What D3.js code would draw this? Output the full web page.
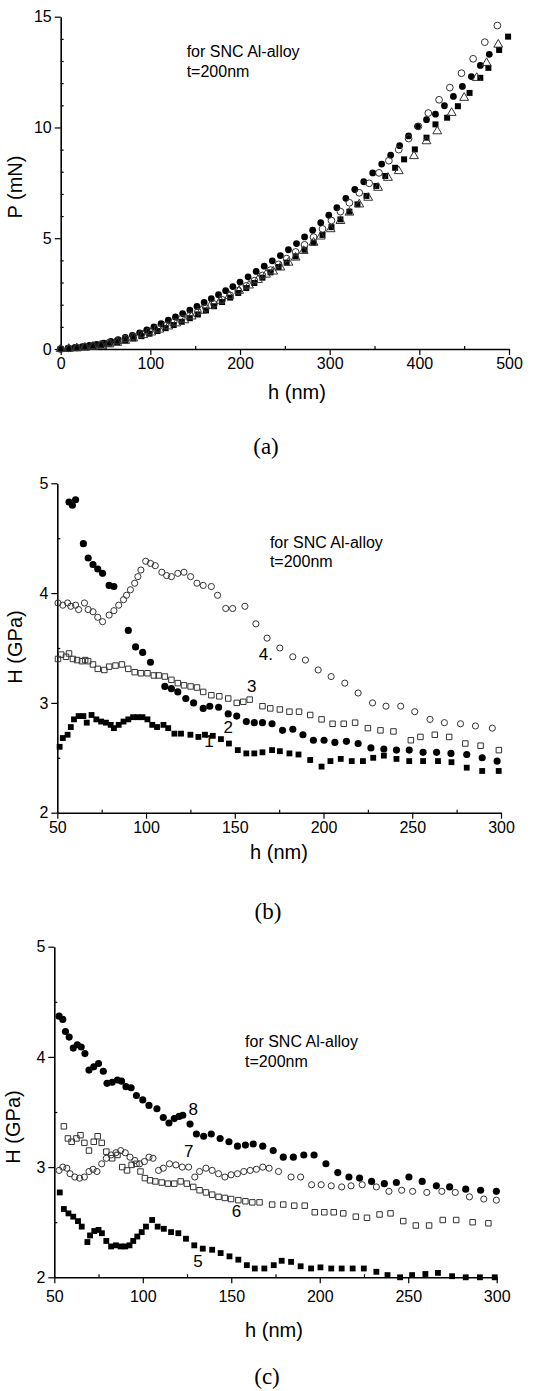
<!DOCTYPE html>
<html>
<head>
<meta charset="utf-8">
<script src="https://cdn.jsdelivr.net/npm/d3@7"></script>
<style>
  body { margin: 0; background: #fff; }
  text { font-family: "Liberation Sans", Arial, sans-serif; fill: #000; }
  .cap { font-family: "Liberation Serif", "Times New Roman", serif; }
</style>
</head>
<body>
<script>

// ---- (a) load P vs depth h ----
var hA_fc = [0,8,16,24,32,40,48,56,64,72,80,88,96,104,112,120,128,136,144,152,160,168,176,184,192,200,209,218,227,236,245,254,263,272,281,290,299,308,318,328,338,348,358,368,378,388,398,408,418,428,438,448,458,468,478]
var pA_fc = [0,0.03,0.07,0.11,0.16,0.21,0.27,0.34,0.42,0.52,0.62,0.73,0.86,1.0,1.15,1.3,1.45,1.6,1.76,1.92,2.1,2.27,2.45,2.63,2.82,3.02,3.26,3.5,3.74,3.98,4.22,4.48,4.76,5.06,5.36,5.7,6.04,6.38,6.8,7.2,7.55,7.95,8.35,8.75,9.18,9.62,10.05,10.35,10.6,10.98,11.4,11.85,12.3,12.8,13.3]

var hA_oc = [0,9,18,27,36,45,54,63,72,81,90,99,108,117,126,135,144,153,162,171,180,189,198,207,216,225,234,243,252,262,272,282,292,302,312,322,333,344,355,366,377,388,399,410,422,434,447,460,473,487]
var pA_oc = [0,0.03,0.07,0.11,0.16,0.22,0.29,0.37,0.47,0.57,0.68,0.8,0.93,1.07,1.22,1.37,1.52,1.68,1.85,2.03,2.22,2.42,2.63,2.85,3.08,3.32,3.56,3.82,4.08,4.38,4.7,5.05,5.42,5.8,6.2,6.6,7.05,7.48,7.95,8.5,9.0,9.5,10.05,10.65,11.25,11.8,12.45,13.1,13.85,14.6]

var hA_fs = [0,9,18,27,36,45,54,63,72,81,90,99,108,117,126,135,144,153,162,171,180,189,198,207,216,225,234,243,252,262,272,282,292,302,312,322,331,341,352,362,373,383,395,408,418,431,443,456,468,477,489,499]
var pA_fs = [0,0.02,0.05,0.09,0.13,0.18,0.24,0.31,0.39,0.48,0.58,0.69,0.81,0.94,1.08,1.23,1.39,1.56,1.74,1.93,2.12,2.32,2.53,2.75,2.98,3.22,3.46,3.7,3.9,4.18,4.48,4.8,5.15,5.5,5.85,6.2,6.53,6.91,7.36,7.81,8.18,8.56,9.01,9.54,10.14,10.44,10.96,11.56,12.24,12.69,13.5,14.1]

var hA_ot = [0,9,18,27,36,45,54,63,72,81,92,101,110,120,129,138,146,157,167,178,188,199,210,220,229,237,245,254,262,271,282,290,301,312,322,333,343,354,365,377,394,408,420,436,450,464,475,488]
var pA_ot = [0,0.01,0.03,0.06,0.1,0.15,0.21,0.28,0.37,0.48,0.63,0.75,0.88,1.02,1.16,1.3,1.47,1.73,1.95,2.18,2.4,2.63,2.87,3.12,3.36,3.5,3.68,3.9,4.13,4.43,4.8,5.08,5.41,5.78,6.16,6.53,6.83,7.28,7.73,8.03,8.71,9.38,9.83,10.66,11.34,12.24,12.91,13.74]

// ---- (b) hardness, curves 1-4 ----
var hB1 = [51.3,53.1,55.8,57.6,59.4,62,64.7,66.6,69.3,72,74.7,77.4,80.1,81.9,84.6,87.3,90,92.7,95.4,98,100.8,103.5,106.2,109.8,112.5,116,119.7,125,129.5,133.2,137.6,142.2,146.7,151.7,156.5,161,165.6,171,175.4,180.8,185.9,192.5,198.9,203.9,209.7,215.9,222.2,228,234,241.1,248.3,256.1,264.5,272.1,280.7,289.4,298.7]
var HB1 = [2.60,2.68,2.71,2.78,2.85,2.88,2.88,2.82,2.89,2.85,2.83,2.82,2.80,2.77,2.80,2.83,2.85,2.87,2.87,2.87,2.85,2.80,2.78,2.80,2.77,2.72,2.72,2.71,2.69,2.71,2.70,2.67,2.63,2.57,2.54,2.54,2.55,2.57,2.56,2.54,2.53,2.48,2.42,2.47,2.49,2.47,2.47,2.50,2.52,2.49,2.47,2.47,2.47,2.46,2.41,2.38,2.38]

var hB2 = [56.6,58.5,60.3,64.7,67.4,70.1,72.8,75.5,79.2,81.9,90,94.1,98.1,102.5,110.6,114.3,117.9,122.4,126.8,132.2,135.9,140.9,146.3,151.1,156.5,161,165.6,171,176.9,182.7,188.4,194.3,200.3,206.4,212.9,219.5,226.7,234,241.1,248.3,256.1,263.7,271.8,280.7,289.4,297.8]
var HB2 = [4.83,4.80,4.85,4.45,4.32,4.26,4.22,4.18,4.07,4.06,3.66,3.51,3.46,3.37,3.15,3.13,3.10,3.04,3.00,2.95,2.97,2.96,2.90,2.88,2.83,2.82,2.82,2.81,2.75,2.76,2.71,2.66,2.66,2.64,2.65,2.63,2.59,2.58,2.57,2.57,2.55,2.55,2.54,2.53,2.50,2.47]

var hB3 = [50.4,52.2,54.9,56.6,58.8,61.2,63.9,65.7,67.4,70.1,72.8,76.5,79.2,82.8,86.4,90,93.6,97.1,100.8,104.4,107.1,110.6,114.3,117.9,121.4,125.1,128.7,132.2,136.8,141.3,146.3,151.1,154.8,158.4,165.6,170,175.4,180.8,186.2,192.5,198.9,205.1,211.4,217.8,225,232.1,239.4,249.2,254.6,262.7,270.8,279.9,288.5,298.8]
var HB3 = [3.40,3.44,3.42,3.45,3.40,3.39,3.38,3.39,3.38,3.35,3.31,3.30,3.33,3.34,3.35,3.31,3.28,3.27,3.27,3.25,3.25,3.24,3.21,3.18,3.16,3.15,3.14,3.10,3.07,3.06,3.04,3.00,3.01,3.03,2.97,2.95,2.94,2.92,2.92,2.89,2.85,2.81,2.81,2.82,2.77,2.75,2.74,2.66,2.69,2.71,2.69,2.63,2.61,2.57]

var hB4 = [50.4,53.1,55.8,57.6,60.3,62,65.3,67.4,70.1,72.8,75.5,79.2,81.9,84.6,87.3,89,91.2,93.6,95.4,97.1,99.8,102.5,105.2,108.9,111.6,114.3,117.9,121.4,125.1,128.7,132.2,136.8,140.3,144.9,148.8,155.7,161.9,168.2,175.4,182.7,189.8,197,204.3,212,219.5,227.6,235.2,243.5,251.4,260,268.1,277.2,285.6,295.1]
var HB4 = [3.91,3.89,3.91,3.88,3.89,3.85,3.91,3.85,3.83,3.78,3.74,3.80,3.84,3.89,3.94,3.98,4.03,4.09,4.15,4.21,4.29,4.27,4.25,4.19,4.16,4.15,4.18,4.19,4.15,4.09,4.07,4.06,3.98,3.86,3.86,3.88,3.72,3.59,3.50,3.42,3.39,3.30,3.24,3.18,3.09,3.00,2.97,2.97,2.92,2.85,2.82,2.81,2.79,2.77]

// ---- (c) hardness, curves 5-8 ----
var hC5 = [53.1,55.4,58,60.7,63.4,65.5,68.7,70.2,72.6,75,76.9,79.4,82.1,84.8,87.5,90.1,92.5,94.6,96.9,99.4,101.8,105.3,108.4,111.9,116,120.1,124.4,129.1,133.9,139.2,144,149,154,158.8,163.3,168.7,174,178.5,183.8,189.2,195.1,200.4,206.5,212.4,218.6,224.9,232,238.3,245.4,252.2,259.7,266.8,274.8,282.5,290.5,298.9]
var HC5 = [2.77,2.62,2.58,2.55,2.51,2.46,2.32,2.38,2.42,2.43,2.40,2.33,2.28,2.29,2.28,2.28,2.29,2.33,2.37,2.41,2.46,2.52,2.46,2.44,2.41,2.40,2.35,2.29,2.26,2.25,2.22,2.19,2.16,2.11,2.08,2.08,2.11,2.15,2.14,2.10,2.08,2.09,2.08,2.08,2.08,2.08,2.05,2.02,2.00,2.02,2.03,2.04,2.01,2.00,2.00,2.00]

var hC6 = [55.4,57.7,59.8,62.5,64.8,67,69.6,72.3,74.5,76.8,79.4,82.7,85.7,88.4,91.1,93.7,96.4,98.7,101.2,104.1,107.1,110.7,114.2,117.8,121.4,124.9,128.5,132.1,135.7,139.2,142.8,146.4,149.9,154,158,161.9,166,173.1,179.4,185.6,191.5,197.2,202.6,207.9,213.3,220.4,226.7,233.8,240,247.2,254.3,261.8,269.5,277.1,286.4,295.3]
var HC6 = [3.37,3.26,3.23,3.26,3.29,3.22,3.15,3.23,3.28,3.22,3.14,3.08,3.11,3.00,2.97,3.02,3.03,2.96,2.90,2.88,2.87,2.86,2.85,2.85,2.87,2.85,2.82,2.79,2.77,2.75,2.73,2.72,2.71,2.70,2.69,2.68,2.68,2.66,2.66,2.65,2.65,2.59,2.59,2.59,2.58,2.55,2.54,2.57,2.58,2.51,2.47,2.47,2.52,2.52,2.50,2.49]

var hC7 = [52.7,54.8,57.1,58.9,61.6,64.3,67,69.6,71.9,74.1,76.8,79.4,82.1,84.8,87.5,90.1,92.8,95.5,98.2,100.9,103.5,105.8,108.9,111.6,115.1,118.7,122.3,125.9,129.4,132.1,135.7,139.2,142.8,146.4,149.9,153.5,157.1,160.7,164.2,167.8,171.4,176.7,183.8,189.2,195.4,200.8,206.5,212.4,217.7,224,232,239.1,246.3,252.5,260.5,269,276.6,284.6,292.7,299.8]
var HC7 = [2.97,3.00,2.99,2.94,2.91,2.90,2.91,2.96,2.98,2.96,3.03,3.08,3.11,3.13,3.15,3.13,3.09,3.06,3.03,3.05,3.09,3.08,2.97,2.99,3.03,3.02,3.00,3.00,2.91,2.96,2.99,2.97,2.94,2.91,2.93,2.94,2.96,2.97,2.98,3.00,2.99,2.96,2.91,2.91,2.84,2.84,2.83,2.82,2.83,2.84,2.82,2.78,2.79,2.78,2.77,2.78,2.77,2.73,2.71,2.70]

var hC8 = [52.7,54.8,56.3,58.4,60.7,63,65.2,67.3,69.6,72.3,75,77.7,79.8,82.7,85.7,88,90.5,93.4,96.4,100,103.5,108,111.6,114.8,117.8,120.5,122.6,126.7,130.3,134.4,138.7,143.7,148.7,153.5,158,162.4,167.8,173.7,179.4,185.1,191,196.8,203.5,210.2,216.5,222.5,229.3,236.5,243.3,250.4,257.9,265.9,273.4,282.5,290.9,299.8]
var HC8 = [4.37,4.34,4.23,4.18,4.08,4.11,4.09,4.03,3.88,3.91,3.94,3.87,3.76,3.77,3.79,3.78,3.73,3.72,3.65,3.61,3.56,3.53,3.45,3.40,3.44,3.46,3.47,3.39,3.30,3.28,3.30,3.26,3.23,3.19,3.20,3.21,3.19,3.15,3.09,3.09,3.11,3.11,3.03,2.95,2.91,2.90,2.87,2.85,2.86,2.91,2.87,2.83,2.82,2.80,2.79,2.78]

// tick labels
var xTicksA = [0,100,200,300,400,500]
var yTicksA = [0,5,10,15]
var xTicksH = [50,100,150,200,250,300]
var yTicksH = [2,3,4,5]

// curve numbers, placed in data units
var curveLabelsB = [{t:"1", h:135.5, v:2.65}, {t:"2", h:146.3, v:2.78}, {t:"3", h:159.6, v:3.15}, {t:"4.", h:167.5, v:3.44}]
var curveLabelsC = [{t:"8", h:128.5, v:3.52}, {t:"7", h:125.9, v:3.14}, {t:"6", h:152.9, v:2.60}, {t:"5", h:131.2, v:2.14}]


function zip(xs, ys) {
    return xs.map(function (x, i) { return [x, ys[i]]; })
}

var svg = d3.select("body").append("svg")
    .attr("width", 550)
    .attr("height", 1391)

function drawPanel(cfg) {
    var x = d3.scaleLinear().domain(cfg.xDomain).range(cfg.xRange)
    var y = d3.scaleLinear().domain(cfg.yDomain).range(cfg.yRange)
    var g = svg.append("g")

    // minor ticks first, pointing inward
    g.append("g")
        .attr("transform", "translate(0," + cfg.yRange[0] + ")")
        .call(d3.axisBottom(x).tickValues(cfg.xMinor).tickSize(-3).tickFormat(""))
        .call(function (s) { s.select(".domain").remove(); })
    g.append("g")
        .attr("transform", "translate(" + cfg.xRange[0] + ",0)")
        .call(d3.axisLeft(y).tickValues(cfg.yMinor).tickSize(-3).tickFormat(""))
        .call(function (s) { s.select(".domain").remove(); })

    var xAxis = g.append("g")
        .attr("transform", "translate(0," + cfg.yRange[0] + ")")
        .call(d3.axisBottom(x).tickValues(cfg.xTicks).tickSize(6).tickSizeOuter(0)
            .tickPadding(cfg.xPad).tickFormat(d3.format("d")))
    var yAxis = g.append("g")
        .attr("transform", "translate(" + cfg.xRange[0] + ",0)")
        .call(d3.axisLeft(y).tickValues(cfg.yTicks).tickSize(6).tickSizeOuter(0)
            .tickPadding(3).tickFormat(d3.format("d")))

    g.selectAll(".domain").attr("stroke", "#000").attr("stroke-width", 1.6)
    g.selectAll(".tick line").attr("stroke", "#000").attr("stroke-width", 1.2)
    xAxis.selectAll("text").style("font-size", "16px").style("font-family", "Liberation Sans, Arial, sans-serif")
    yAxis.selectAll("text").style("font-size", "16px").style("font-family", "Liberation Sans, Arial, sans-serif")

    cfg.series.forEach(function (s) {
        var sym = d3.symbol().type(s.shape).size(s.size)
        g.append("g").selectAll("path")
            .data(s.pts)
            .enter().append("path")
            .attr("d", sym)
            .attr("transform", function (d) { return "translate(" + x(d[0]) + "," + y(d[1]) + ")"; })
            .attr("fill", s.open ? "none" : "#000")
            .attr("stroke", s.open ? "#333" : "none")
            .attr("stroke-width", 1)
    })

    g.append("text")
        .attr("x", x(cfg.note[0]))
        .attr("y", y(cfg.note[1]))
        .style("font-size", "16px")
        .text("for SNC Al-alloy")
    g.append("text")
        .attr("x", x(cfg.note[0]))
        .attr("y", y(cfg.note[2]))
        .style("font-size", "16px")
        .text("t=200nm")

    if (cfg.labels) {
        g.selectAll(".clabel")
            .data(cfg.labels)
            .enter().append("text")
            .attr("class", "clabel")
            .attr("x", function (d) { return x(d.h); })
            .attr("y", function (d) { return y(d.v); })
            .attr("text-anchor", "middle")
            .attr("dominant-baseline", "central")
            .style("font-size", "17px")
            .text(function (d) { return d.t; })
    }

    g.append("text")
        .attr("x", cfg.xTitle[0])
        .attr("y", cfg.xTitle[1])
        .attr("text-anchor", "middle")
        .attr("dominant-baseline", "central")
        .style("font-size", "20px")
        .text("h (nm)")
    g.append("text")
        .attr("transform", "translate(" + cfg.yTitle[0] + "," + cfg.yTitle[1] + ") rotate(-90)")
        .attr("text-anchor", "middle")
        .attr("dominant-baseline", "central")
        .style("font-size", "20px")
        .text(cfg.yLabel)

    g.append("text")
        .attr("class", "cap")
        .attr("x", cfg.cap[0])
        .attr("y", cfg.cap[1])
        .attr("text-anchor", "middle")
        .style("font-size", "23px")
        .text(cfg.capText)
}

drawPanel({
    xDomain: [0, 500], xRange: [60.7, 509],
    yDomain: [0, 15], yRange: [349, 16.7],
    xTicks: xTicksA, yTicks: yTicksA, xPad: 3,
    xMinor: d3.range(50, 500, 100), yMinor: d3.range(1, 15, 1).filter(function (v) { return v % 5 != 0; }),
    series: [
        {pts: zip(hA_fc, pA_fc), shape: d3.symbolCircle, size: 36, open: false},
        {pts: zip(hA_fs, pA_fs), shape: d3.symbolSquare, size: 36, open: false},
        {pts: zip(hA_ot, pA_ot), shape: d3.symbolTriangle, size: 34, open: true},
        {pts: zip(hA_oc, pA_oc), shape: d3.symbolCircle, size: 36, open: true}
    ],
    note: [140.5, 13.2, 12.3],
    xTitle: [297, 392], yTitle: [15, 187], yLabel: "P (mN)",
    cap: [266, 454], capText: "(a)"
})

drawPanel({
    xDomain: [50, 300], xRange: [57.3, 501],
    yDomain: [2, 5], yRange: [812.7, 483.3],
    xTicks: xTicksH, yTicks: yTicksH, xPad: 3,
    xMinor: [75, 125, 175, 225, 275], yMinor: [2.5, 3.5, 4.5],
    series: [
        {pts: zip(hB1, HB1), shape: d3.symbolSquare, size: 34, open: false},
        {pts: zip(hB2, HB2), shape: d3.symbolCircle, size: 40, open: false},
        {pts: zip(hB3, HB3), shape: d3.symbolSquare, size: 30, open: true},
        {pts: zip(hB4, HB4), shape: d3.symbolCircle, size: 30, open: true}
    ],
    note: [169.8, 4.41, 4.24],
    labels: curveLabelsB,
    xTitle: [279, 852], yTitle: [15, 647], yLabel: "H (GPa)",
    cap: [268, 919], capText: "(b)"
})

drawPanel({
    xDomain: [50, 300], xRange: [54.3, 496.7],
    yDomain: [2, 5], yRange: [1277.3, 946.7],
    xTicks: xTicksH, yTicks: yTicksH, xPad: 7,
    xMinor: [75, 125, 175, 225, 275], yMinor: [2.5, 3.5, 4.5],
    series: [
        {pts: zip(hC5, HC5), shape: d3.symbolSquare, size: 34, open: false},
        {pts: zip(hC6, HC6), shape: d3.symbolSquare, size: 30, open: true},
        {pts: zip(hC7, HC7), shape: d3.symbolCircle, size: 30, open: true},
        {pts: zip(hC8, HC8), shape: d3.symbolCircle, size: 40, open: false}
    ],
    note: [157.8, 4.09, 3.91],
    labels: curveLabelsC,
    xTitle: [274, 1330], yTitle: [13, 1127], yLabel: "H (GPa)",
    cap: [267, 1384], capText: "(c)"
})

</script>
</body>
</html>
